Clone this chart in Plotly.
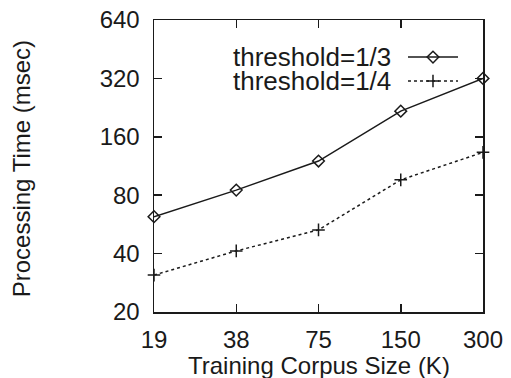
import plotly.graph_objects as go
import math

corpus_sizes = ["19", "38", "75", "150", "300"]
time_third = [62, 85, 120, 217, 320]
time_quarter = [31, 41.3, 53, 96, 133]
y_ticks = [20, 40, 80, 160, 320, 640]
series_names = ["threshold=1/3", "threshold=1/4"]

FONT = "Liberation Sans, Arial, Helvetica, sans-serif"
INK = "#1a1a1a"

fig = go.Figure()
fig.add_trace(go.Scatter(
    x=corpus_sizes, y=time_third, mode="lines+markers", name=series_names[0],
    line=dict(color=INK, width=1.5),
    marker=dict(symbol="diamond-open", size=9, color=INK, line=dict(width=1.5, color=INK)),
    showlegend=False, cliponaxis=False))
fig.add_trace(go.Scatter(
    x=corpus_sizes, y=time_quarter, mode="lines+markers", name=series_names[1],
    line=dict(color=INK, width=1.5, dash="3px,3px"),
    marker=dict(symbol="cross-thin-open", size=9, color=INK, line=dict(width=1.5, color=INK)),
    showlegend=False, cliponaxis=False))

# manual legend (text left of sample, like gnuplot)
leg_rows = [0.873, 0.791]
leg_x0, leg_x1, leg_xm, leg_text_x = 0.772, 0.924, 0.848, 0.726
leg_dash = ["solid", "3px,3px"]
leg_sym = ["diamond-open", "cross-thin-open"]
for i in range(2):
    fig.add_trace(go.Scatter(
        x=[leg_x0, leg_xm, leg_x1], y=[leg_rows[i]] * 3, mode="lines",
        line=dict(color=INK, width=1.5, dash=leg_dash[i]),
        xaxis="x2", yaxis="y2", showlegend=False, hoverinfo="skip"))
    fig.add_trace(go.Scatter(
        x=[leg_xm], y=[leg_rows[i]], mode="markers",
        marker=dict(symbol=leg_sym[i], size=9, color=INK, line=dict(width=1.5, color=INK)),
        xaxis="x2", yaxis="y2", showlegend=False, hoverinfo="skip"))
    fig.add_annotation(x=leg_text_x, y=leg_rows[i], xref="paper", yref="paper",
                       text=series_names[i], showarrow=False, xanchor="right",
                       yanchor="middle", font=dict(family=FONT, size=26, color=INK))

fig.add_annotation(x=-0.40, y=0.49, xref="paper", yref="paper", text="Processing Time (msec)",
                   textangle=-90, showarrow=False, xanchor="center", yanchor="middle",
                   font=dict(family=FONT, size=24, color=INK))
fig.add_annotation(x=0.5, y=-0.183, xref="paper", yref="paper", text="Training Corpus Size (K)",
                   showarrow=False, xanchor="center", yanchor="middle",
                   font=dict(family=FONT, size=24, color=INK))

fig.update_layout(
    width=511, height=378,
    margin=dict(l=154, r=28, t=20, b=66, autoexpand=False),
    paper_bgcolor="white", plot_bgcolor="white",
    font=dict(family=FONT, size=24, color=INK),
    xaxis=dict(type="category", range=[0, 4], showgrid=False, zeroline=False, automargin=False,
               ticks="inside", ticklen=8, tickwidth=1.5, tickcolor=INK,
               showline=True, linewidth=1.5, linecolor=INK, mirror="ticks",
               ticklabelstandoff=6, tickfont=dict(size=24)),
    yaxis=dict(type="log", range=[math.log10(20), math.log10(640)], tickvals=y_ticks,
               ticktext=[str(v) for v in y_ticks], showgrid=False, zeroline=False, automargin=False,
               ticks="inside", ticklen=8, tickwidth=1.5, tickcolor=INK,
               showline=True, linewidth=1.5, linecolor=INK, mirror="ticks",
               ticklabelstandoff=8, tickfont=dict(size=24)),
    xaxis2=dict(range=[0, 1], overlaying="x", visible=False, fixedrange=True),
    yaxis2=dict(range=[0, 1], overlaying="y", visible=False, fixedrange=True),
    showlegend=False,
)

fig.write_html("out.html", config={"displayModeBar": False, "staticPlot": True},
               post_script="document.body.style.margin='0';document.body.style.overflow='hidden';")
